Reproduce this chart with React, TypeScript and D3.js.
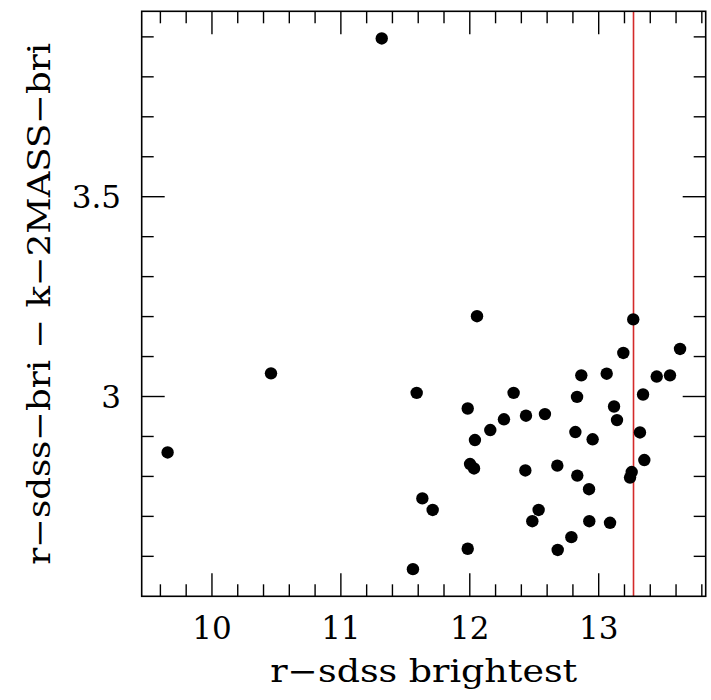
import React from "react";
import * as d3 from "d3";

// Brightest galaxy: r-band (SDSS) magnitude vs r - K colour
const rBrightest = [
  12.056, 13.268, 13.631, 13.191, 12.865, 13.062, 13.45, 13.553, 11.588, 12.34,
  12.832, 13.344, 11.984, 13.119, 12.265, 12.436, 12.583, 13.142, 12.159, 12.819,
  13.32, 12.04, 12.953, 12.002, 12.033, 12.431, 12.679, 12.834, 13.354, 13.256,
  13.243, 12.925, 11.632, 11.712, 12.534, 12.485, 12.927, 13.088, 12.788, 11.984,
  12.682, 11.559, 10.458, 9.656, 11.317,
];
const rMinusK = [
  3.201, 3.193, 3.119, 3.109, 3.053, 3.057, 3.05, 3.053, 3.009, 3.009,
  2.999, 3.005, 2.97, 2.975, 2.943, 2.952, 2.956, 2.941, 2.916, 2.911,
  2.91, 2.891, 2.893, 2.831, 2.82, 2.815, 2.827, 2.802, 2.841, 2.811,
  2.797, 2.768, 2.745, 2.716, 2.716, 2.688, 2.688, 2.684, 2.648, 2.619,
  2.616, 2.568, 3.058, 2.86, 3.896,
];
const xMajorTicks = [10, 11, 12, 13];
const yMajorTicks = [3, 3.5];
const cutMagnitude = 13.27;

const xDomain: [number, number] = [9.455, 13.83];
const yDomain: [number, number] = [2.5, 3.964];

const W = 711;
const H = 700;
const box = { left: 141.7, right: 705.7, top: 11.3, bottom: 596.3 };
const FONT = "'DejaVu Serif', serif";

export default function App() {
  const x = d3.scaleLinear().domain(xDomain).range([box.left, box.right]);
  const y = d3.scaleLinear().domain(yDomain).range([box.bottom, box.top]);

  const xMinor = d3.range(9.6, 13.81, 0.2).map((v) => +v.toFixed(2));
  const yMinor = d3.range(2.6, 3.961, 0.1).map((v) => +v.toFixed(2));
  const isMajor = (v: number, majors: number[]) =>
    majors.some((m) => Math.abs(m - v) < 1e-6);

  const majorLen = 23;
  const minorLen = 12;

  return (
    <svg
      width={W}
      height={H}
      style={{ position: "absolute", left: 0, top: 0, background: "#fff" }}
    >
      {/* ticks on all four sides, pointing inward */}
      <g stroke="#000" strokeWidth={1.4}>
        {xMinor.map((v) => {
          const len = isMajor(v, xMajorTicks) ? majorLen : minorLen;
          return (
            <g key={"xt" + v}>
              <line x1={x(v)} x2={x(v)} y1={box.bottom} y2={box.bottom - len} />
              <line x1={x(v)} x2={x(v)} y1={box.top} y2={box.top + len} />
            </g>
          );
        })}
        {yMinor.map((v) => {
          const len = isMajor(v, yMajorTicks) ? majorLen : minorLen;
          return (
            <g key={"yt" + v}>
              <line x1={box.left} x2={box.left + len} y1={y(v)} y2={y(v)} />
              <line x1={box.right} x2={box.right - len} y1={y(v)} y2={y(v)} />
            </g>
          );
        })}
      </g>

      {/* magnitude cut */}
      <line
        x1={x(cutMagnitude)}
        x2={x(cutMagnitude)}
        y1={box.top}
        y2={box.bottom}
        stroke="#d42a2a"
        strokeWidth={1.6}
      />

      {/* points */}
      <g fill="#000">
        {rBrightest.map((v, i) => (
          <circle key={i} cx={x(v)} cy={y(rMinusK[i])} r={6.2} />
        ))}
      </g>

      {/* frame */}
      <rect
        x={box.left}
        y={box.top}
        width={box.right - box.left}
        height={box.bottom - box.top}
        fill="none"
        stroke="#000"
        strokeWidth={1.6}
      />

      {/* tick labels */}
      <g fontFamily={FONT} fontSize={31} fill="#000">
        {xMajorTicks.map((v) => (
          <text key={"xl" + v} x={x(v)} y={638.5} textAnchor="middle">
            {v}
          </text>
        ))}
        {yMajorTicks.map((v) => (
          <text key={"yl" + v} x={121} y={y(v) + 11.5} textAnchor="end">
            {v}
          </text>
        ))}
      </g>

      {/* axis titles */}
      <text
        x={(box.left + box.right) / 2}
        y={681.5}
        textAnchor="middle"
        fontFamily={FONT}
        fontSize={31}
        textLength={307}
        lengthAdjust="spacingAndGlyphs"
      >
        r−sdss brightest
      </text>
      <text
        transform={`translate(50,${(box.top + box.bottom) / 2}) rotate(-90)`}
        textAnchor="middle"
        fontFamily={FONT}
        fontSize={31}
        textLength={522}
        lengthAdjust="spacingAndGlyphs"
      >
        r−sdss−bri − k−2MASS−bri
      </text>
    </svg>
  );
}
